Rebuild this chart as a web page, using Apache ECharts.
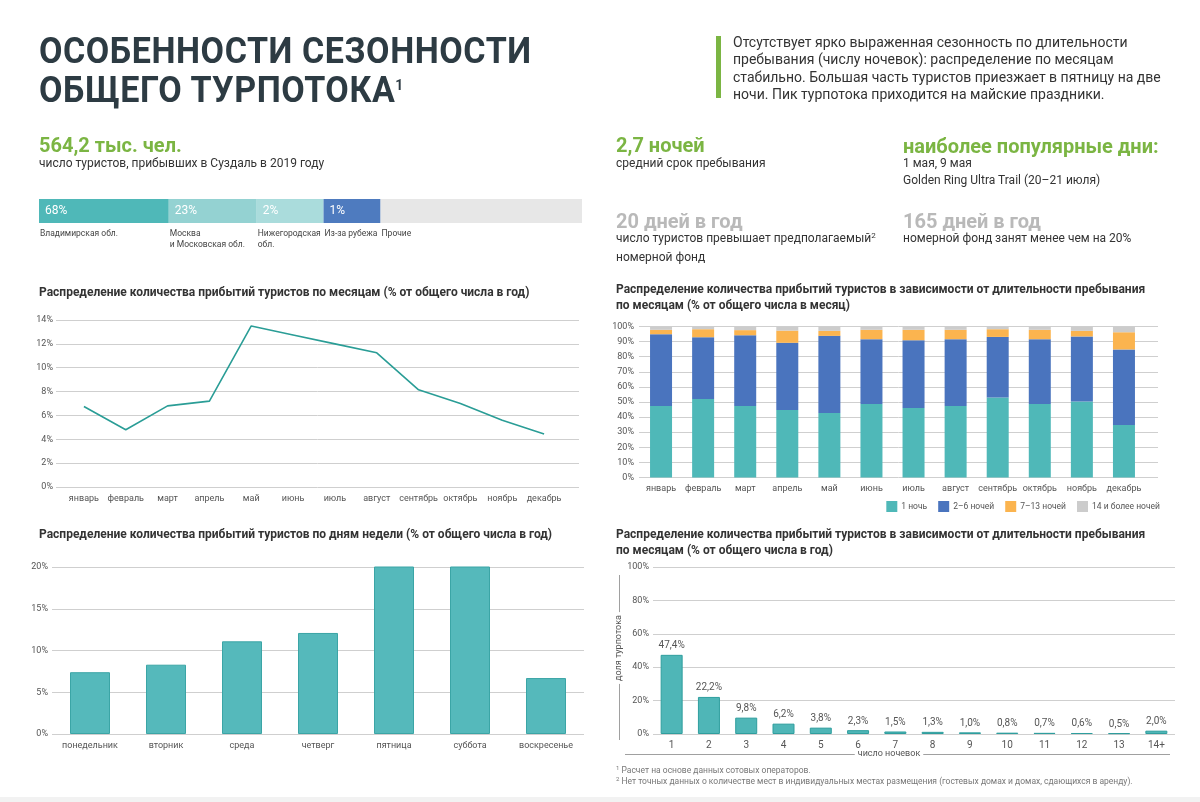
<!DOCTYPE html>
<html lang="ru">
<head>
<meta charset="utf-8">
<script src="https://cdn.jsdelivr.net/npm/echarts/dist/echarts.min.js"></script>
<style>
  html, body { margin: 0; padding: 0; background: #fff; }
  #wrap { position: relative; width: 1200px; height: 802px; overflow: hidden; font-family: Roboto, "Noto Sans", sans-serif; color: #333; }
  #chart { position: absolute; left: 0; top: 0; width: 1200px; height: 802px; }
  .t { position: absolute; white-space: nowrap; }
  .h1 { font-weight: 700; font-size: 37px; line-height: 37px; color: #2d3b43; transform: scaleX(0.92); transform-origin: 0 0; letter-spacing: 0.6px; }
  .h1 sup { font-size: 15px; vertical-align: top; position: relative; top: -4px; }
  .para { font-size: 14px; line-height: 17.3px; color: #333; }
  .big { font-weight: 700; font-size: 20px; line-height: 22px; }
  .green { color: #7bb543; }
  .grey { color: #b9b9b9; }
  .sub { font-size: 12px; line-height: 16.5px; color: #333; }
  .sub .s { font-size: 8px; position: relative; top: -4px; }
  .foot { font-size: 8.5px; line-height: 11px; color: #777; }
  .foot .s { font-size: 6px; position: relative; top: -3px; }
  #bar { position: absolute; left: 716px; top: 36px; width: 5px; height: 62px; background: #7bb543; }
  #strip { position: absolute; left: 0; top: 797px; width: 1200px; height: 5px; background: #f2f2f2; }
</style>
</head>
<body>
<div id="wrap">
  <div id="chart"></div>
  <div class="t h1" style="left:39px; top:32px;">ОСОБЕННОСТИ СЕЗОННОСТИ</div>
  <div class="t h1" style="left:39px; top:71px;">ОБЩЕГО ТУРПОТОКА<sup>1</sup></div>
  <div id="bar"></div>
  <div class="t para" style="left:733px; top:34px;">Отсутствует ярко выраженная сезонность по длительности<br>пребывания (числу ночевок): распределение по месяцам<br>стабильно. Большая часть туристов приезжает в пятницу на две<br>ночи. Пик турпотока приходится на майские праздники.</div>

  <div class="t big green" style="left:39px; top:134px;">564,2 тыс. чел.</div>
  <div class="t sub" style="left:39px; top:155px;">число туристов, прибывших в Суздаль в 2019 году</div>

  <div class="t big green" style="left:616px; top:134px;">2,7 ночей</div>
  <div class="t sub" style="left:616px; top:155px;">средний срок пребывания</div>

  <div class="t big green" style="left:903px; top:135px;">наиболее популярные дни:</div>
  <div class="t sub" style="left:903px; top:155px;">1 мая, 9 мая<br>Golden Ring Ultra Trail (20–21 июля)</div>

  <div class="t big grey" style="left:616px; top:210px;">20 дней в год</div>
  <div class="t sub" style="left:616px; top:230px;">число туристов превышает предполагаемый<span class="s">2</span><br>номерной фонд</div>

  <div class="t big grey" style="left:903px; top:210px;">165 дней в год</div>
  <div class="t sub" style="left:903px; top:230px;">номерной фонд занят менее чем на 20%</div>

  <div class="t foot" style="left:616px; top:765px;"><span class="s">1</span> Расчет на основе данных сотовых операторов.<br><span class="s">2</span> Нет точных данных о количестве мест в индивидуальных местах размещения (гостевых домах и домах, сдающихся в аренду).</div>
  <div id="strip"></div>
</div>
<script>
// ---------------- DATA ----------------
const originNames = ['Владимирская обл.', 'Москва\nи Московская обл.', 'Нижегородская\nобл.', 'Из-за рубежа', 'Прочие'];
const originLabels = ['68%', '23%', '2%', '1%', ''];
// share of the drawn bar that each segment occupies in the picture (segments are not drawn to scale)
const originBarShare = [23.9, 16.2, 12.3, 10.5, 37.1];

const months = ['январь', 'февраль', 'март', 'апрель', 'май', 'июнь', 'июль', 'август', 'сентябрь', 'октябрь', 'ноябрь', 'декабрь'];
const monthShare = [6.75, 4.8, 6.8, 7.2, 13.5, 12.75, 12.0, 11.25, 8.15, 7.0, 5.6, 4.45];

const stayNames = ['1 ночь', '2–6 ночей', '7–13 ночей', '14 и более ночей'];
const stay1 = [47.3, 52.0, 47.3, 44.7, 42.7, 48.7, 46.0, 47.3, 52.9, 48.7, 50.4, 34.7];
const stay2to6 = [47.6, 40.9, 46.9, 44.5, 51.1, 42.9, 44.9, 44.3, 40.2, 42.9, 43.0, 50.1];
const stay7to13 = [2.9, 5.3, 3.4, 8.1, 3.3, 6.2, 6.9, 6.2, 5.1, 6.2, 3.7, 11.4];
const stay14plus = [2.2, 1.8, 2.4, 2.7, 2.9, 2.2, 2.2, 2.2, 1.8, 2.2, 2.9, 3.8];

const weekdays = ['понедельник', 'вторник', 'среда', 'четверг', 'пятница', 'суббота', 'воскресенье'];
const weekdayShare = [7.4, 8.3, 11.1, 12.1, 20.1, 20.1, 6.7];

const nights = ['1', '2', '3', '4', '5', '6', '7', '8', '9', '10', '11', '12', '13', '14+'];
const nightsShare = [47.4, 22.2, 9.8, 6.2, 3.8, 2.3, 1.5, 1.3, 1.0, 0.8, 0.7, 0.6, 0.5, 2.0];

const titles = {
  months: 'Распределение количества прибытий туристов по месяцам (% от общего числа в год)',
  stayByMonth: 'Распределение количества прибытий туристов в зависимости от длительности пребывания\nпо месяцам (% от общего числа в месяц)',
  weekdays: 'Распределение количества прибытий туристов по дням недели (% от общего числа в год)',
  nights: 'Распределение количества прибытий туристов в зависимости от длительности пребывания\nпо месяцам (% от общего числа в год)'
};

// ---------------- STYLE ----------------
const FONT = 'Roboto';
const originColors = ['#4fb8b8', '#94d2d2', '#aadcdc', '#4e7bbf', '#e7e7e7'];
const stayColors = ['#4fb8b8', '#4a74be', '#fbb44f', '#cccccc'];
const gridColor = '#cfcfcf';
const axisText = { color: '#555', fontSize: 9, fontFamily: FONT };
const titleStyle = { fontSize: 12, fontWeight: 'bold', color: '#333', fontFamily: FONT, lineHeight: 16 };

const chart = echarts.init(document.getElementById('chart'), null, { renderer: 'canvas' });

function pct(v) { return v + '%'; }
function catLabel(extra) { return Object.assign({ margin: 7, interval: 0 }, axisText, extra || {}); }

const option = {
  animation: false,
  backgroundColor: 'transparent',
  textStyle: { fontFamily: FONT },
  title: [
    { text: titles.months, left: 39, top: 285, textStyle: titleStyle, padding: 0 },
    { text: titles.stayByMonth, left: 616, top: 282, textStyle: titleStyle, padding: 0 },
    { text: titles.weekdays, left: 39, top: 527, textStyle: titleStyle, padding: 0 },
    { text: titles.nights, left: 616, top: 527, textStyle: titleStyle, padding: 0 }
  ],
  legend: {
    right: 40, top: 501, width: 500, itemWidth: 11, itemHeight: 11, itemGap: 11, icon: 'rect', padding: 0,
    selectedMode: false, data: stayNames,
    textStyle: { color: '#555', fontSize: 8.5, fontFamily: FONT, padding: [0, 0, 0, -1] }
  },
  grid: [
    { left: 39, top: 199, width: 543, height: 24 },           // 0 origin bar
    { left: 56, top: 320, width: 523, height: 167 },           // 1 months gridlines
    { left: 63, top: 320, width: 502, height: 167 },           // 2 months data
    { left: 639, top: 326.5, width: 519, height: 151 },        // 3 stay gridlines
    { left: 640, top: 326.5, width: 505, height: 151 },        // 4 stay data
    { left: 52, top: 567, width: 532, height: 167 },           // 5 weekdays
    { left: 653, top: 567, width: 522, height: 167 }           // 6 nights
  ],
  xAxis: [
    { gridIndex: 0, type: 'value', min: 0, max: 100, show: false },
    { gridIndex: 1, type: 'value', min: 0, max: 1, show: false },
    { gridIndex: 2, type: 'category', data: months, axisLine: { show: false }, axisTick: { show: false }, axisLabel: catLabel() },
    { gridIndex: 3, type: 'value', min: 0, max: 1, show: false },
    { gridIndex: 4, type: 'category', data: months, axisLine: { show: false }, axisTick: { show: false }, axisLabel: catLabel() },
    { gridIndex: 5, type: 'category', data: weekdays, axisLine: { show: false }, axisTick: { show: false }, axisLabel: catLabel() },
    { gridIndex: 6, type: 'category', data: nights, axisLine: { show: false }, axisTick: { show: false }, axisLabel: catLabel({ fontSize: 10, margin: 6 }) }
  ],
  yAxis: [
    { gridIndex: 0, type: 'category', data: ['origin'], show: false },
    { gridIndex: 1, type: 'value', min: 0, max: 14, interval: 2, axisLine: { show: false }, axisTick: { show: false },
      splitLine: { lineStyle: { color: gridColor } }, axisLabel: Object.assign({ margin: 3, formatter: pct }, axisText) },
    { gridIndex: 2, type: 'value', min: 0, max: 14, show: false },
    { gridIndex: 3, type: 'value', min: 0, max: 100, interval: 10, axisLine: { show: false }, axisTick: { show: false },
      splitLine: { lineStyle: { color: gridColor } }, axisLabel: Object.assign({ margin: 5, formatter: pct }, axisText) },
    { gridIndex: 4, type: 'value', min: 0, max: 100, show: false },
    { gridIndex: 5, type: 'value', min: 0, max: 20, interval: 5, axisLine: { show: false }, axisTick: { show: false },
      splitLine: { lineStyle: { color: gridColor } }, axisLabel: Object.assign({ margin: 4, formatter: pct }, axisText) },
    { gridIndex: 6, type: 'value', min: 0, max: 100, interval: 20, axisLine: { show: false }, axisTick: { show: false },
      splitLine: { lineStyle: { color: gridColor } }, axisLabel: Object.assign({ margin: 4, formatter: pct }, axisText) }
  ],
  series: [],
  graphic: [
    { type: 'line', z: 1, shape: { x1: 619.5, y1: 575, x2: 619.5, y2: 740 }, style: { stroke: '#a0a0a0', lineWidth: 1 } },
    { type: 'text', z: 2, x: 619, y: 648, rotation: Math.PI / 2,
      style: { text: 'доля турпотока', fill: '#555', font: '9px ' + FONT, align: 'center', verticalAlign: 'middle',
               backgroundColor: '#fff', padding: [0, 3] } },
    { type: 'line', z: 1, shape: { x1: 625, y1: 754.5, x2: 1170, y2: 754.5 }, style: { stroke: '#a0a0a0', lineWidth: 1 } },
    { type: 'text', z: 2, x: 889, y: 754, style: { text: 'число ночевок', fill: '#555', font: '9px ' + FONT,
               align: 'center', verticalAlign: 'middle', backgroundColor: '#fff', padding: [0, 3] } }
  ]
};

// origin bar (stacked horizontal segments)
originNames.forEach(function (n, i) {
  const lines = n.split('\n').map(function (l) { return '{n|' + l + '}'; }).join('\n');
  option.series.push({
    type: 'bar', name: n.replace('\n', ' '), stack: 'origin', xAxisIndex: 0, yAxisIndex: 0,
    barWidth: 24, silent: true, data: [originBarShare[i]],
    itemStyle: { color: originColors[i] },
    label: {
      show: true, position: [1, 0],
      formatter: '{p|' + (originLabels[i] || ' ') + '}\n{s| }\n' + lines,
      rich: {
        p: { color: '#fff', fontSize: 12, lineHeight: 24, padding: [0, 0, 0, 5], fontFamily: FONT },
        s: { fontSize: 1, lineHeight: 5 },
        n: { color: '#444', fontSize: 8.5, lineHeight: 11, fontFamily: FONT }
      }
    }
  });
});

// months line
option.series.push({
  type: 'line', name: 'по месяцам', xAxisIndex: 2, yAxisIndex: 2, data: monthShare,
  symbol: 'none', lineStyle: { color: '#2a9d96', width: 1.6 }, itemStyle: { color: '#2a9d96' }
});

// stay by month stacked bars
[stay1, stay2to6, stay7to13, stay14plus].forEach(function (arr, i) {
  option.series.push({
    type: 'bar', name: stayNames[i], stack: 'stay', xAxisIndex: 4, yAxisIndex: 4, data: arr,
    barWidth: 22, itemStyle: { color: stayColors[i] }
  });
});

// weekdays
option.series.push({
  type: 'bar', name: 'по дням недели', xAxisIndex: 5, yAxisIndex: 5, data: weekdayShare, barWidth: 40,
  itemStyle: { color: '#55b9bb', borderColor: '#3ba5a6', borderWidth: 1 }
});

// nights
option.series.push({
  type: 'bar', name: 'число ночевок', xAxisIndex: 6, yAxisIndex: 6, data: nightsShare, barWidth: 22,
  itemStyle: { color: '#4fb6b7', borderColor: '#2f9e9e', borderWidth: 1 },
  label: { show: true, position: 'top', distance: 4, color: '#555', fontSize: 10, fontFamily: FONT,
           formatter: function (p) { return p.value.toFixed(1).replace('.', ',') + '%'; } }
});

chart.setOption(option);
</script>
</body>
</html>
